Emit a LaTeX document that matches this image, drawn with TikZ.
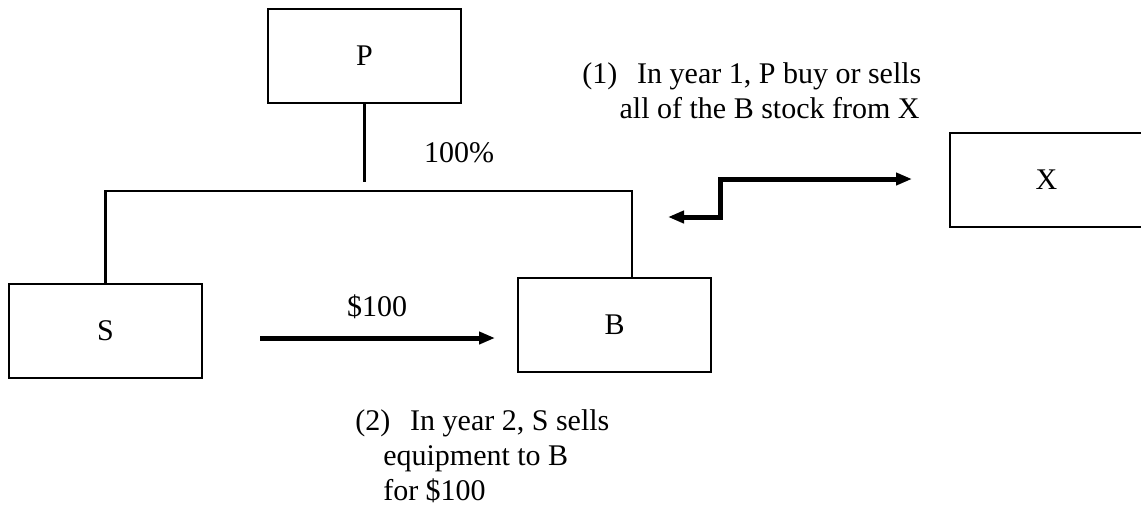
\documentclass[tikz,border=0pt]{standalone}
\usepackage{fontspec}
\setmainfont{Liberation Serif}
\usetikzlibrary{arrows.meta,positioning}

\begin{document}
\begin{tikzpicture}[x=0.75pt,y=-0.75pt,
  every node/.style={font=\fontsize{22.5}{26.25}\selectfont},
  entity/.style={draw,line width=1.5pt,minimum width=144.75pt,minimum height=70.5pt,inner sep=0pt},
  link/.style={line width=2pt},
  flow/.style={line width=3.75pt,-{Triangle[length=12pt,width=9pt]}}]
  \useasboundingbox (0,0) rectangle (1141,508);

  % Companies
  \node[entity] (P) at (364.5,56) {P};
  \node[entity] (S) at (105.5,331) {S};
  \node[entity] (B) at (614.5,325) {B};
  \node[entity] (X) at (1046.5,180) {X};

  % Ownership lines
  \coordinate (pend) at (364.5,182);
  \coordinate (jl) at (105.5,191);
  \coordinate (jr) at (632,191);
  \draw[link] (P.south) -- (pend);
  \draw[link] (S.north) -- (jl) -- (jr) -- (jr |- B.north);
  \node (own) at (459,153) {100\%};

  % (1) stock purchase
  \coordinate (sl) at (668,217);
  \coordinate (sr) at (912,179);
  \draw[flow,{Triangle[length=12pt,width=9pt]}-{Triangle[length=12pt,width=9pt]}]
    (sl) -- (720,217) -- (720,179) -- (sr);
  \node[anchor=north west,inner sep=0pt,align=left] (note1) at (582,62)
    {(1)\hspace{15pt}In year 1, P buy or sells\\\hspace*{28pt}all of the B stock from X};

  % (2) equipment sale
  \coordinate (eq) at (260,338);
  \draw[flow] (eq) -- (495,338);
  \node (price) at (377,307) {\$100};
  \node[anchor=north west,inner sep=0pt,align=left] (note2) at (355,409)
    {(2)\hspace{15pt}In year 2, S sells\\\hspace*{21pt}equipment to B\\\hspace*{21pt}for \$100};
\end{tikzpicture}
\end{document}
